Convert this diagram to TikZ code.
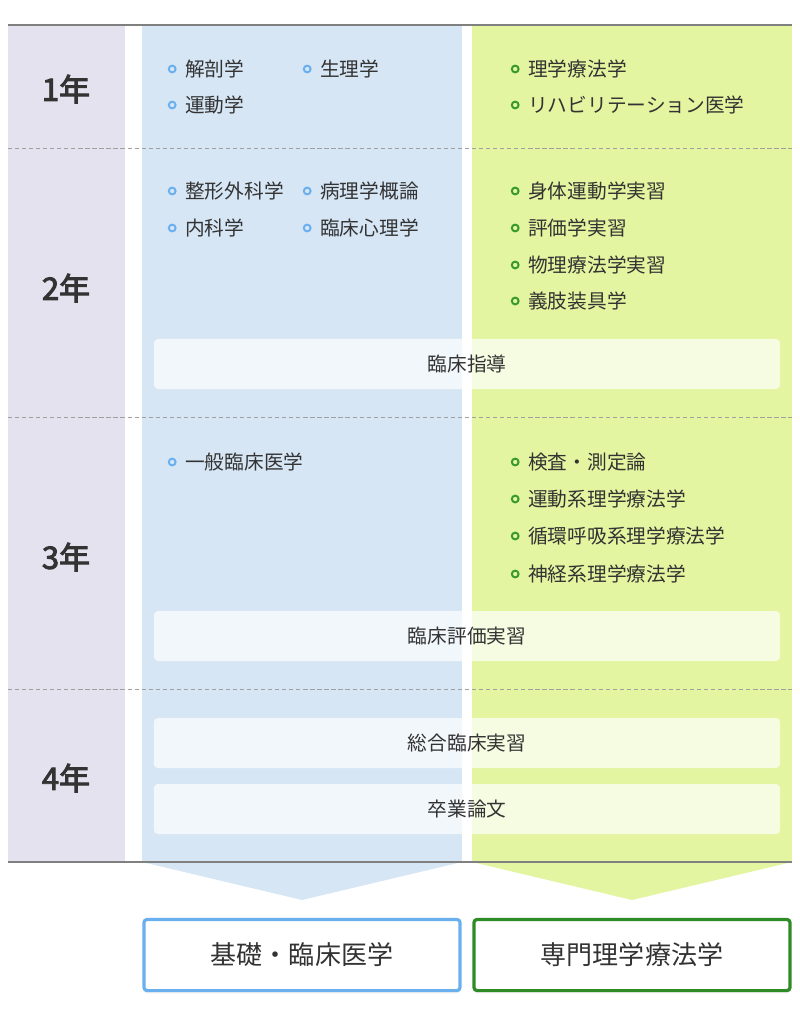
\documentclass[tikz,border=0pt]{standalone}
\usepackage{fontspec}
\setmainfont{Noto Sans CJK JP}
\newfontfamily\yearfont[FakeBold=3]{Noto Sans CJK JP}
\usepackage{tikz}
\usetikzlibrary{positioning, shadows}
\definecolor{mytext}{RGB}{51,51,51}
\definecolor{yearbg}{RGB}{228,226,239}
\definecolor{basebg}{RGB}{214,230,245}
\definecolor{probg}{RGB}{227,245,160}
\definecolor{dotblue}{RGB}{106,176,238}
\definecolor{dotgreen}{RGB}{58,154,46}
\definecolor{boxgreen}{RGB}{46,139,38}
\definecolor{rulegray}{RGB}{128,128,128}
\definecolor{dashgray}{RGB}{160,160,160}
\tikzset{
  bluedot/.style={circle, draw=dotblue, line width=1.4pt, minimum size=0.17cm,
    inner sep=0pt, label distance=0.21cm},
  greendot/.style={circle, draw=dotgreen, line width=1.4pt, minimum size=0.17cm,
    inner sep=0pt, label distance=0.21cm},
  baseitem/.style={anchor=west, inner sep=0pt, text=mytext,
    font=\fontsize{14}{16}\selectfont, label={[bluedot]left:{}}},
  proitem/.style={anchor=west, inner sep=0pt, text=mytext,
    font=\fontsize{14}{16}\selectfont, label={[greendot]left:{}}},
  yearlabel/.style={text=mytext, font=\fontsize{22}{24}\selectfont\yearfont},
  widebox/.style={rectangle, fill=white, fill opacity=0.7, text opacity=1,
    rounded corners=0.1cm, minimum width=15.65cm, minimum height=1.25cm,
    text=mytext, font=\fontsize{14}{16}\selectfont},
  goalbox/.style={rectangle, fill=white, line width=0.08cm, rounded corners=0.08cm,
    minimum width=7.9cm, minimum height=1.78cm, text=mytext,
    font=\fontsize{18.5}{20}\selectfont,
    drop shadow={shadow xshift=0pt, shadow yshift=-2pt, opacity=0.12}},
  yearrule/.style={dashgray, line width=0.7pt, dash pattern=on 3pt off 2pt},
  edgerule/.style={rulegray, line width=1.4pt}
}

\begin{document}
\begin{tikzpicture}[x=0.025cm, y=-0.025cm]
  \useasboundingbox (0,0) rectangle (800,1020);

  % Columns
  \fill[yearbg] (8,25) rectangle (125,862);
  \fill[basebg] (142,25) rectangle (462,862);
  \fill[probg] (472,25) rectangle (792,862);

  % Arrows into the goals
  \fill[basebg] (142,862) -- (462,862) -- (302,900) -- cycle;
  \fill[probg] (472,862) -- (792,862) -- (632,900) -- cycle;

  % Year borders
  \draw[edgerule] (8,25) -- (792,25);
  \draw[yearrule] (8,148) -- (792,148);
  \draw[yearrule] (8,417) -- (792,417);
  \draw[yearrule] (8,689) -- (792,689);
  \draw[edgerule] (8,862) -- (792,862);

  % Years
  \node[yearlabel] (y1) at (66,89) {1年};
  \node[yearlabel] (y2) at (66,288) {2年};
  \node[yearlabel] (y3) at (66,557) {3年};
  \node[yearlabel] (y4) at (66,778) {4年};

  % 1st year
  \node[baseitem] (kaibou) at (185,69) {解剖学};
  \node[baseitem] (seiri) at (320,69) {生理学};
  \node[baseitem] (undou) at (185,105) {運動学};
  \node[proitem] (ptgaku) at (528,69) {理学療法学};
  \node[proitem] (rihabi) at (528,105) {リハビリテーション医学};

  % 2nd year
  \node[baseitem] (seikei) at (185,191) {整形外科学};
  \node[baseitem] (byouri) at (320,191) {病理学概論};
  \node[baseitem] (naika) at (185,228) {内科学};
  \node[baseitem] (shinri) at (320,228) {臨床心理学};
  \node[proitem] (shintai) at (528,191) {身体運動学実習};
  \node[proitem] (hyouka) at (528,228) {評価学実習};
  \node[proitem] (butsuri) at (528,265) {物理療法学実習};
  \node[proitem] (gishi) at (528,301) {義肢装具学};
  \node[widebox] (shidou) at (467,364) {臨床指導};

  % 3rd year
  \node[baseitem] (ippan) at (185,462) {一般臨床医学};
  \node[proitem] (kensa) at (528,462) {検査・測定論};
  \node[proitem] (undoukei) at (528,499) {運動系理学療法学};
  \node[proitem] (junkan) at (528,536) {循環呼吸系理学療法学};
  \node[proitem] (shinkei) at (528,574) {神経系理学療法学};
  \node[widebox] (rinhyou) at (467,636) {臨床評価実習};

  % 4th year
  \node[widebox] (sougou) at (467,743) {総合臨床実習};
  \node[widebox] (sotsuron) at (467,809) {卒業論文};

  % Goals
  \node[goalbox, draw=dotblue] (kiso) at (302,955) {基礎・臨床医学};
  \node[goalbox, draw=boxgreen] (senmon) at (632,955) {専門理学療法学};
\end{tikzpicture}
\end{document}
